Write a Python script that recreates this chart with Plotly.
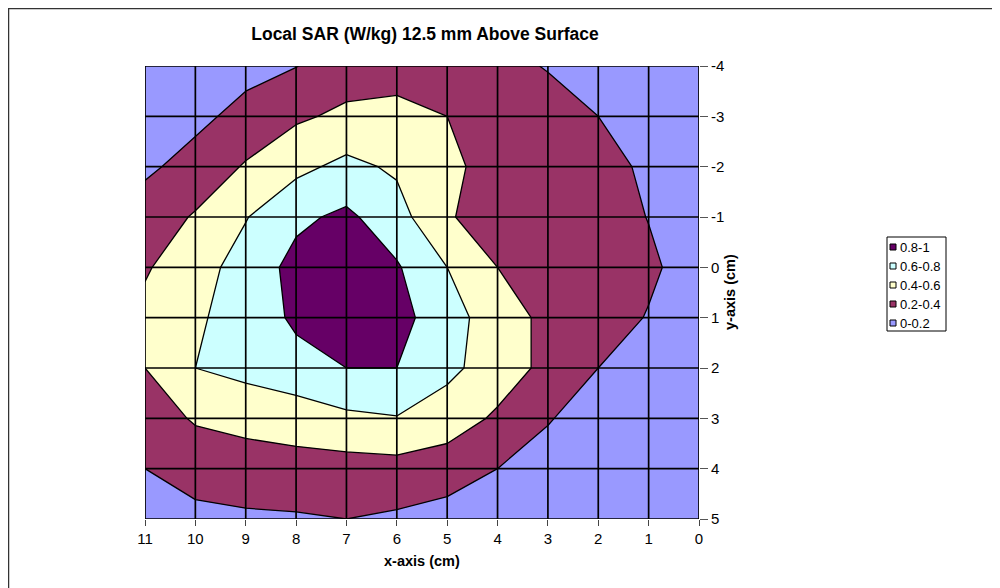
import plotly.graph_objects as go

# grid of measurement points (cm)
x_cm = list(range(0, 12))
y_cm = list(range(-4, 6))

# local SAR (W/kg), one row per y value, columns x = 0..11
sar_y_m4 = [0.08, 0.10, 0.13, 0.19, 0.25, 0.30, 0.33, 0.30, 0.195, 0.15, 0.10, 0.08]
sar_y_m3 = [0.10, 0.14, 0.20, 0.27, 0.35, 0.40, 0.45, 0.44, 0.37, 0.25, 0.16, 0.12]
sar_y_m2 = [0.10, 0.17, 0.26, 0.32, 0.35, 0.43, 0.57, 0.65, 0.55, 0.42, 0.26, 0.17]
sar_y_m1 = [0.10, 0.195, 0.28, 0.33, 0.35, 0.41, 0.68, 0.84, 0.76, 0.59, 0.42, 0.28]
sar_y_0 = [0.12, 0.23, 0.30, 0.33, 0.40, 0.60, 0.82, 0.95, 0.86, 0.68, 0.52, 0.38]
sar_y_1 = [0.08, 0.19, 0.28, 0.35, 0.50, 0.68, 0.87, 0.95, 0.84, 0.66, 0.58, 0.45]
sar_y_2 = [0.05, 0.12, 0.20, 0.35, 0.50, 0.65, 0.80, 0.80, 0.72, 0.66, 0.60, 0.40]
sar_y_3 = [0.03, 0.08, 0.13, 0.21, 0.37, 0.50, 0.59, 0.56, 0.50, 0.46, 0.42, 0.30]
sar_y_4 = [0.02, 0.04, 0.08, 0.14, 0.20, 0.30, 0.33, 0.32, 0.32, 0.31, 0.28, 0.20]
sar_y_5 = [0.01, 0.02, 0.04, 0.06, 0.10, 0.12, 0.17, 0.20, 0.18, 0.17, 0.15, 0.09]

sar = [sar_y_m4, sar_y_m3, sar_y_m2, sar_y_m1, sar_y_0,
       sar_y_1, sar_y_2, sar_y_3, sar_y_4, sar_y_5]

band_labels = ["0-0.2", "0.2-0.4", "0.4-0.6", "0.6-0.8", "0.8-1"]
band_colors = ["#9999FF", "#993366", "#FFFFCC", "#CCFFFF", "#660066"]

FONT = "Liberation Sans, Arial, sans-serif"

# page is offset 8px by the html body margin, so figure is 992x580
W, H = 992, 580
ML, MT = 137, 58
PW, PH = 554, 453


def px(page_x):
    return (page_x - 145) / PW


def py(page_y):
    return (519 - page_y) / PH


# stepped colour scale so every band gets one flat colour
cscale = []
for i, c in enumerate(band_colors):
    cscale.append([i / 5, c])
    cscale.append([(i + 1) / 5, c])

fig = go.Figure()

fig.add_trace(go.Contour(
    x=x_cm, y=y_cm, z=sar,
    zmin=0, zmax=1,
    colorscale=cscale,
    contours=dict(start=0.2, end=0.8, size=0.2, coloring="fill", showlines=True),
    line=dict(color="black", width=1.3, smoothing=0),
    showscale=False,
    hoverinfo="skip",
    showlegend=False,
))

shapes = []
annotations = []

# black grid drawn above the filled contours
for xv in x_cm:
    shapes.append(dict(type="line", xref="x", yref="y", x0=xv, x1=xv, y0=-4, y1=5,
                       line=dict(color="black", width=1.7), layer="above"))
for yv in y_cm:
    shapes.append(dict(type="line", xref="x", yref="y", x0=0, x1=11, y0=yv, y1=yv,
                       line=dict(color="black", width=1.7), layer="above"))

# chart frame (right/bottom run off the page)
shapes.append(dict(type="rect", xref="paper", yref="paper",
                   x0=px(8.5), x1=px(1010), y0=py(600), y1=py(8.5),
                   line=dict(color="#333333", width=1.5), fillcolor="rgba(0,0,0,0)"))

# legend box drawn by hand, top band first
shapes.append(dict(type="rect", xref="paper", yref="paper",
                   x0=px(887), x1=px(946), y0=py(331), y1=py(237),
                   line=dict(color="black", width=1), fillcolor="white"))
for k, (lab, col) in enumerate(reversed(list(zip(band_labels, band_colors)))):
    cy = 247 + k * 19
    shapes.append(dict(type="rect", xref="paper", yref="paper",
                       x0=px(890), x1=px(896), y0=py(cy + 3), y1=py(cy - 3),
                       line=dict(color="black", width=1), fillcolor=col))
    annotations.append(dict(text=lab, xref="paper", yref="paper",
                            x=px(898), y=py(cy), xanchor="left", yanchor="middle",
                            showarrow=False, font=dict(family=FONT, size=13)))

# axis titles
annotations.append(dict(text="<b>x-axis (cm)</b>", xref="paper", yref="paper",
                        x=px(422), y=py(561), xanchor="center", yanchor="middle",
                        showarrow=False, font=dict(family=FONT, size=14.5)))
annotations.append(dict(text="<b>y-axis (cm)</b>", xref="paper", yref="paper",
                        x=px(730), y=py(292), xanchor="center", yanchor="middle",
                        textangle=-90, showarrow=False,
                        font=dict(family=FONT, size=14.5)))

fig.update_layout(
    width=W, height=H,
    margin=dict(l=ML, r=W - ML - PW, t=MT, b=H - MT - PH),
    paper_bgcolor="white", plot_bgcolor="white",
    font=dict(family=FONT, size=13.5, color="black"),
    title=dict(text="<b>Local SAR (W/kg) 12.5 mm Above Surface</b>",
               xref="paper", x=px(425), xanchor="center",
               y=1 - 26 / H, yanchor="middle",
               font=dict(family=FONT, size=17.5, color="black")),
    shapes=shapes,
    annotations=annotations,
    showlegend=False,
)

fig.update_xaxes(
    range=[11, 0], tickmode="array", tickvals=x_cm, ticktext=[str(v) for v in x_cm],
    showgrid=False, zeroline=False, ticks="outside", ticklen=6, tickcolor="#444444",
    showline=False, tickfont=dict(family=FONT, size=15),
)
fig.update_yaxes(
    range=[5, -4], side="right", tickmode="array", tickvals=y_cm,
    ticktext=[str(v) for v in y_cm],
    showgrid=False, zeroline=False, ticks="outside", ticklen=8, tickcolor="#555555",
    showline=False, tickfont=dict(family=FONT, size=15),
)

fig.write_html("out.html")
